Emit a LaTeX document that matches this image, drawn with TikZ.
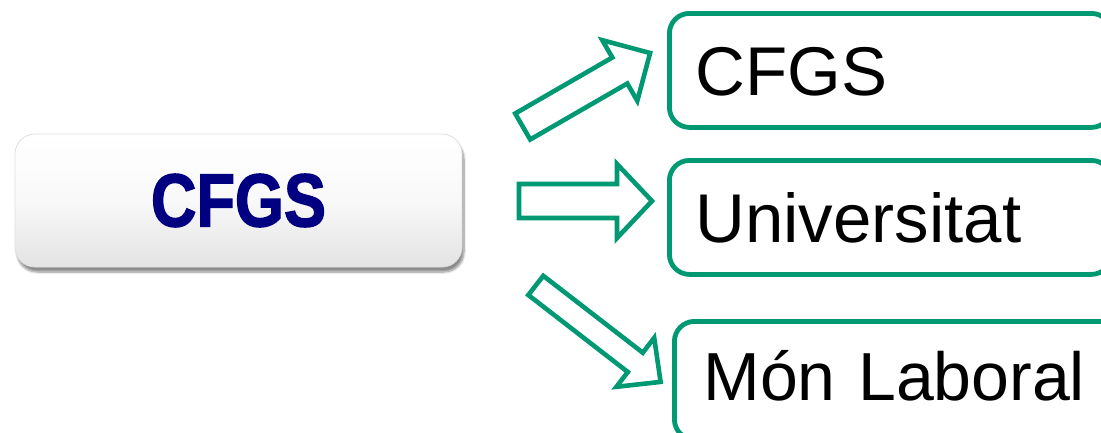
\documentclass[tikz,border=0pt]{standalone}
\usepackage{fontspec}
\setmainfont{Liberation Sans}
\newfontfamily\heavyfont[FakeBold=2]{Liberation Sans Bold}
\usetikzlibrary{shadows.blur}

\definecolor{arrowgreen}{RGB}{0,153,115}
\definecolor{cfgsnavy}{RGB}{0,0,128}

\tikzset{
  startbox/.style={rectangle, rounded corners=20pt, draw=gray!25, line width=0.8pt,
    top color=white, bottom color=gray!22, middle color=white!95!gray,
    blur shadow={shadow xshift=2pt, shadow yshift=-5pt, shadow blur steps=8, shadow opacity=45},
    minimum width=447pt, minimum height=133pt, inner sep=0pt},
  goalbox/.style={rectangle, rounded corners=20pt, draw=arrowgreen, line width=4.8pt,
    fill=white, anchor=north west, text width=390pt, align=left, inner xsep=26pt,
    inner ysep=0pt, text height=50pt, text depth=0pt, font=\fontsize{69}{80}\selectfont},
  blockarrow/.style={draw=arrowgreen, fill=white, line width=4.6pt, line join=miter}
}

\begin{document}
\begin{tikzpicture}[x=1pt,y=-1pt]
\useasboundingbox (0,0) rectangle (1101,432);

%Shape: Rounded Rectangle [id:start]
\node[startbox] (start) at (238.5,200.5) {\scalebox{0.84}[1]{\heavyfont\fontsize{75}{80}\selectfont\color{cfgsnavy}CFGS}};

%Shape: Rounded Rectangle [id:goals]
\node[goalbox, minimum height=114pt] (cfgs) at (667,11) {CFGS};
\node[goalbox, minimum height=114pt] (univ) at (667,158) {Universitat};
\node[goalbox, minimum height=118pt, inner xsep=29pt, text depth=10pt, font=\fontsize{68}{80}\selectfont] (laboral) at (672,319) {Món Laboral};

%Shape: Right Arrow [id:up]
\draw[blockarrow] (530.2,139.5) -- (515.2,113.5) -- (612.3,57.5) -- (602.3,40.2) -- (650.1,53) -- (637.3,100.8) -- (627.3,83.5) -- cycle ;
%Shape: Right Arrow [id:straight]
\draw[blockarrow] (519,184) -- (617,184) -- (617,164) -- (652,201) -- (617,238) -- (617,218) -- (519,218) -- cycle ;
%Shape: Right Arrow [id:down]
\draw[blockarrow] (543.3,275.8) -- (528.3,295.0) -- (627.8,372.0) -- (616.4,386.8) -- (660.6,381.9) -- (654.2,337.8) -- (642.8,352.7) -- cycle ;

\end{tikzpicture}
\end{document}
